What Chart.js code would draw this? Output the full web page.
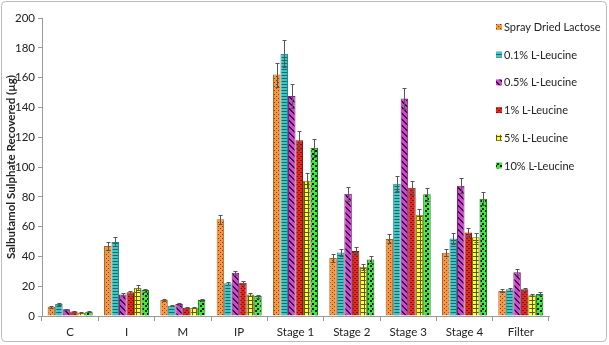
<!DOCTYPE html>
<html>
<head>
<meta charset="utf-8">
<script src="https://cdn.jsdelivr.net/npm/chart.js@4.4.0/dist/chart.umd.min.js"></script>
<style>
  body { margin: 0; background: #fff; }
  #wrap { width: 609px; height: 345px; }
</style>
</head>
<body>
<div id="wrap"><canvas id="myChart" width="609" height="345"></canvas></div>
<script>
const stages = ["C", "I", "M", "IP", "Stage 1", "Stage 2", "Stage 3", "Stage 4", "Filter"];
const seriesNames = ["Spray Dried Lactose", "0.1% L-Leucine", "0.5% L-Leucine", "1% L-Leucine", "5% L-Leucine", "10% L-Leucine"];

const sprayDried = [6.2, 47, 10.7, 65, 162, 39, 51.7, 42.5, 16.8];
const leu01 = [8, 49.7, 6.9, 22, 176, 42.7, 88.8, 52, 17.9];
const leu05 = [4.5, 14.5, 8, 29, 147.6, 82, 146, 87.5, 29.3];
const leu1 = [3.1, 16, 5.6, 22.3, 118, 43.6, 86, 56, 17.9];
const leu5 = [2.2, 19, 5.6, 14.5, 90.8, 33, 68, 52.8, 14];
const leu10 = [2.9, 17.4, 10.7, 13.4, 113, 38, 81.7, 78.7, 14.8];

const errSprayDried = [0.5, 2.4, 0.6, 3, 8, 2.5, 3, 2.5, 1];
const errLeu01 = [0.6, 3, 0.5, 1, 9, 2.5, 5, 3.5, 1];
const errLeu05 = [0.4, 1, 0.5, 1.5, 8, 4.5, 7, 5, 2];
const errLeu1 = [0.3, 1, 0.4, 1, 6, 2.5, 4.5, 3, 1];
const errLeu5 = [0.3, 1.7, 0.5, 1, 5, 2, 3.8, 3.2, 0.8];
const errLeu10 = [0.3, 1, 0.6, 1, 6, 2.2, 4.3, 4.3, 1];

const yTicks = { min: 0, max: 200, step: 20 };

const FONT = "Lato, 'Open Sans', sans-serif";

function makePattern(bg, fg, size, draw) {
  const c = document.createElement("canvas");
  c.width = size;
  c.height = size;
  const g = c.getContext("2d");
  g.fillStyle = bg;
  g.fillRect(0, 0, size, size);
  g.fillStyle = fg;
  draw(g, size);
  return document.getElementById("myChart").getContext("2d").createPattern(c, "repeat");
}

const patterns = [
  makePattern("#F7963C", "#7A3E08", 4, (g) => {
    g.fillRect(0, 0, 1, 1);
    g.fillRect(2, 2, 1, 1);
  }),
  makePattern("#3CC8C8", "#1B6A6A", 3, (g) => {
    g.fillRect(0, 0, 3, 1);
  }),
  makePattern("#D444D4", "#3A0F3A", 6, (g) => {
    for (let i = -6; i < 12; i++) {
      g.fillRect(i, i, 2, 1);
      g.fillRect(i + 6, i, 2, 1);
      g.fillRect(i - 6, i, 2, 1);
    }
  }),
  makePattern("#E02A20", "#8A0E0E", 4, (g) => {
    g.fillRect(0, 0, 2, 1);
    g.fillRect(2, 2, 2, 1);
  }),
  makePattern("#FFFF30", "#5A5A00", 4, (g) => {
    g.fillRect(0, 0, 4, 1);
    g.fillRect(0, 0, 1, 4);
  }),
  makePattern("#33EE33", "#051505", 5, (g) => {
    g.fillRect(0, 0, 2, 2);
    g.fillRect(2, 3, 2, 2);
  }),
];
const borders = ["#B0601A", "#1F8A8A", "#7A1F7A", "#8A1010", "#7A7A00", "#117711"];

const values = [sprayDried, leu01, leu05, leu1, leu5, leu10];
const errors = [errSprayDried, errLeu01, errLeu05, errLeu1, errLeu5, errLeu10];

const errorBars = {
  id: "errorBars",
  afterDatasetsDraw(chart) {
    const ctx = chart.ctx;
    const y = chart.scales.y;
    ctx.save();
    ctx.strokeStyle = "#555";
    ctx.lineWidth = 1;
    chart.data.datasets.forEach((ds, di) => {
      const meta = chart.getDatasetMeta(di);
      meta.data.forEach((bar, i) => {
        const v = ds.data[i];
        const e = errors[di][i];
        const top = Math.round(y.getPixelForValue(v + e)) + 0.5;
        const bot = Math.round(y.getPixelForValue(v - e)) + 0.5;
        const x = Math.round(bar.x) + 0.5;
        ctx.beginPath();
        ctx.moveTo(x, top);
        ctx.lineTo(x, bot);
        ctx.moveTo(x - 2, top);
        ctx.lineTo(x + 2, top);
        ctx.moveTo(x - 2, bot);
        ctx.lineTo(x + 2, bot);
        ctx.stroke();
      });
    });
    ctx.restore();
  },
};

const sideLegend = {
  id: "sideLegend",
  afterDraw(chart) {
    const ctx = chart.ctx;
    ctx.save();
    ctx.font = "11px " + FONT;
    ctx.textBaseline = "middle";
    chart.data.datasets.forEach((ds, i) => {
      const cy = 27 + i * 27.7;
      ctx.fillStyle = ds.backgroundColor;
      ctx.fillRect(496, cy - 3, 6, 6);
      ctx.fillStyle = "#222";
      ctx.fillText(ds.label, 504, cy + 0.5);
    });
    ctx.restore();
  },
};

const frame = {
  id: "frame",
  beforeDraw(chart) {
    const ctx = chart.ctx;
    ctx.save();
    ctx.fillStyle = "#fff";
    ctx.fillRect(0, 0, chart.width, chart.height);
    ctx.strokeStyle = "#BBBBBB";
    ctx.lineWidth = 1;
    ctx.beginPath();
    ctx.roundRect(1.5, 1.5, 605, 340, 4);
    ctx.stroke();
    ctx.restore();
  },
};

const config = {
  type: "bar",
  data: {
    labels: stages,
    datasets: seriesNames.map((name, i) => ({
      label: name,
      data: values[i],
      backgroundColor: patterns[i],
      borderColor: borders[i],
      borderWidth: 1,
      categoryPercentage: 0.8,
      barPercentage: 1.0,
    })),
  },
  options: {
    responsive: false,
    animation: false,
    devicePixelRatio: 1,
    layout: { padding: { top: 18, right: 60, bottom: 0, left: 4 } },
    plugins: {
      legend: { display: false },
      tooltip: { enabled: false },
    },
    scales: {
      x: {
        grid: {
          display: true,
          drawOnChartArea: false,
          offset: true,
          tickLength: 5,
          color: "#999",
        },
        border: { color: "#999" },
        ticks: { color: "#222", font: { family: FONT, size: 11.5 }, padding: 4 },
        afterFit: (scale) => {
          scale.height = 29;
        },
      },
      y: {
        min: yTicks.min,
        max: yTicks.max,
        grid: {
          display: true,
          drawOnChartArea: false,
          tickLength: 4,
          color: "#999",
        },
        border: { color: "#999" },
        ticks: {
          stepSize: yTicks.step,
          color: "#222",
          font: { family: FONT, size: 11.5 },
          padding: 3,
        },
        title: {
          display: true,
          text: "Salbutamol Sulphate Recovered (µg)",
          color: "#222",
          font: { family: FONT, size: 11.5, weight: "bold" },
          padding: { top: 0, bottom: 0 },
        },
        afterFit: (scale) => {
          scale.width = 38;
        },
      },
    },
  },
  plugins: [frame, errorBars, sideLegend],
};

new Chart(document.getElementById("myChart"), config);
</script>
</body>
</html>
